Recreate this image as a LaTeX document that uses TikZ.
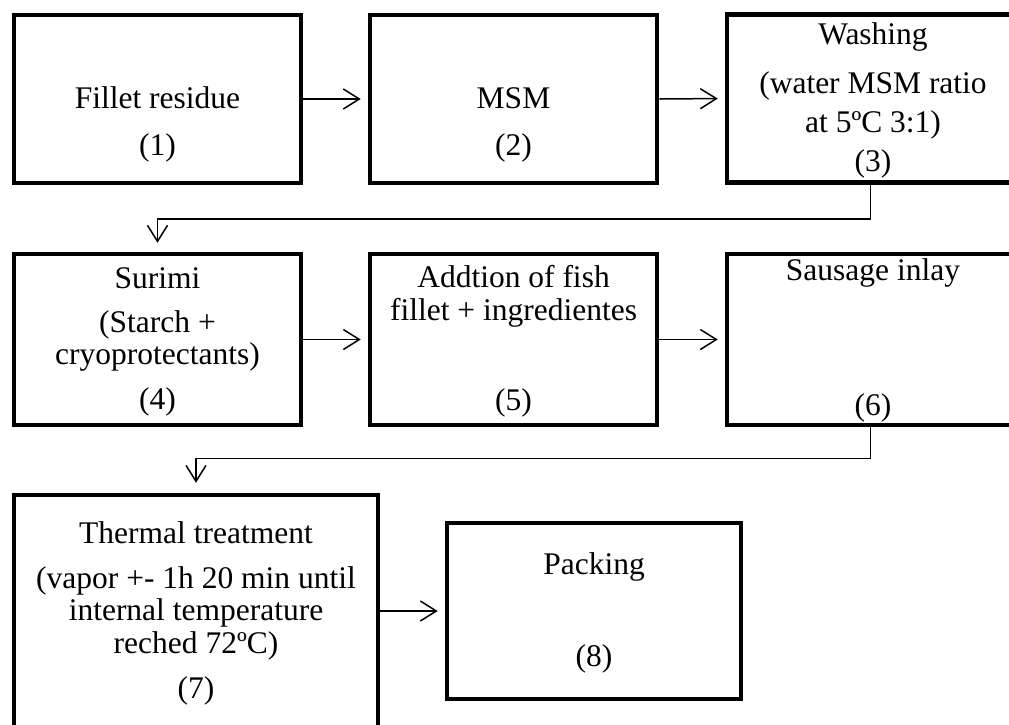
\documentclass[tikz,border=0pt]{standalone}
\usepackage{fontspec}
\setmainfont{Liberation Serif}
\usetikzlibrary{arrows.meta,calc}
\begin{document}
\begin{tikzpicture}[x=1pt,y=-1pt,
  box/.style={draw=black,line width=4.5pt,minimum width=287pt,minimum height=168pt,inner sep=0pt,fill=white},
  txt/.style={anchor=base,inner sep=0pt,font=\fontsize{31.5}{36}\selectfont},
  conn/.style={draw=black,line width=1.5pt,-{Straight Barb[length=16pt,width=20pt,line width=1.5pt]}},
  gap/.style={shorten >=7pt}]
\useasboundingbox (0,0) rectangle (1009,724);
% boxes
\node[box] (b1) at (157.5,99) {};
\node[box] (b2) at (513.5,99) {};
\node[box] (b3) at (870.5,98.5) {};
\node[box,minimum height=171pt] (b4) at (157.5,339.5) {};
\node[box,minimum height=171pt] (b5) at (513.5,339.5) {};
\node[box,minimum height=171pt] (b6) at (870.5,339.5) {};
\node[box,minimum width=364pt,minimum height=250pt] (b7) at (196,620) {};
\node[box,minimum width=294pt,minimum height=176pt] (b8) at (594,611) {};
% texts
\node[txt] (t1a) at (157.5,108) {Fillet residue};
\node[txt] (t1b) at (157.5,155) {(1)};
\node[txt] (t2a) at (513.5,108) {MSM};
\node[txt] (t2b) at (513.5,155) {(2)};
\node[txt] (t3a) at (873,44) {Washing};
\node[txt] (t3b) at (873,93) {(water MSM ratio};
\node[txt] (t3c) at (873,132) {at 5ºC 3:1)};
\node[txt] (t3d) at (873,171) {(3)};
\node[txt] (t4a) at (157.5,288) {Surimi};
\node[txt] (t4b) at (157.5,332) {(Starch +};
\node[txt] (t4c) at (157.5,364) {cryoprotectants)};
\node[txt] (t4d) at (157.5,409) {(4)};
\node[txt] (t5a) at (513.5,287) {Addtion of fish};
\node[txt] (t5b) at (513.5,320) {fillet + ingredientes};
\node[txt] (t5c) at (513.5,410) {(5)};
\node[txt] (t6a) at (873,280) {Sausage inlay};
\node[txt] (t6b) at (873,415) {(6)};
\node[txt] (t7a) at (196,543) {Thermal treatment};
\node[txt] (t7b) at (196,588) {(vapor +- 1h 20 min until};
\node[txt] (t7c) at (196,620) {internal temperature};
\node[txt] (t7d) at (196,653) {reched 72ºC)};
\node[txt] (t7e) at (196,698) {(7)};
\node[txt] (t8a) at (594,574) {Packing};
\node[txt] (t8b) at (594,666) {(8)};
% connectors
\draw[conn,gap] (b1.east) -- (b2.west);
\draw[conn,gap] (b2.east) -- (b3.west);
\draw[conn,gap] (b4.east) -- (b5.west);
\draw[conn,gap] (b5.east) -- (b6.west);
\draw[conn,gap] (b7.east |- b8.west) -- (b8.west);
\coordinate (c3) at ($(b3.south)+(0,34)$);
\coordinate (c6) at ($(b6.south)+(0,31)$);
\draw[conn,shorten >=9pt] (b3.south) -- (c3) -| (b4.north);
\draw[conn,shorten >=10pt] (b6.south) -- (c6) -| (b7.north);
\end{tikzpicture}
\end{document}
